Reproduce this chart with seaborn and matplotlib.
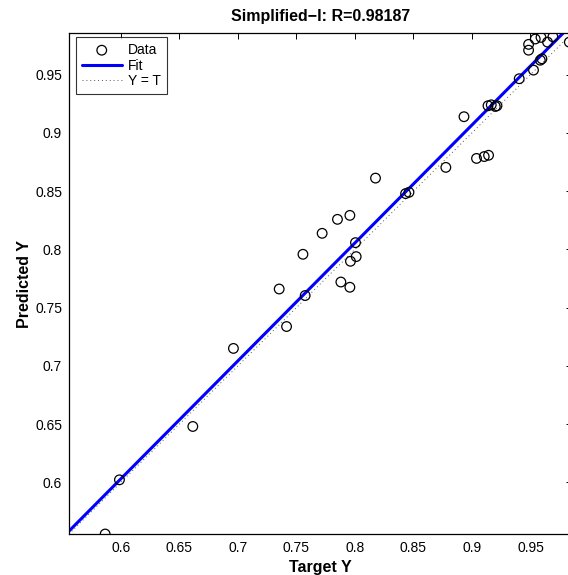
import numpy as np
import pandas as pd
import matplotlib
matplotlib.use("Agg")
import matplotlib.pyplot as plt
import seaborn as sns
from matplotlib.ticker import FuncFormatter, FixedLocator

# ---- data ----
target_y = [0.5866, 0.5988, 0.6615, 0.6962, 0.7353, 0.7416, 0.7575, 0.7556,
            0.7720, 0.7880, 0.7957, 0.7962, 0.8011, 0.8005, 0.7851, 0.7957,
            0.8176, 0.8433, 0.8462, 0.8777, 0.8932, 0.9039, 0.9105, 0.9142,
            0.9137, 0.9165, 0.9200, 0.9214, 0.9404, 0.9526, 0.9584, 0.9598,
            0.9484, 0.9484, 0.9541, 0.9590, 0.9646, 0.9692, 0.9832]
predicted_y = [0.5557, 0.6022, 0.6480, 0.7150, 0.7660, 0.7338, 0.7604, 0.7958,
               0.8138, 0.7720, 0.7675, 0.7898, 0.7938, 0.8058, 0.8258, 0.8292,
               0.8612, 0.8479, 0.8490, 0.8704, 0.9139, 0.8781, 0.8797, 0.8808,
               0.9233, 0.9241, 0.9227, 0.9233, 0.9465, 0.9539, 0.9624, 0.9636,
               0.9760, 0.9710, 0.9806, 0.9820, 0.9779, 0.9825, 0.9779]
axis_limits = [0.5557, 0.9855]
tick_values = [0.6, 0.65, 0.7, 0.75, 0.8, 0.85, 0.9, 0.95]
title_text = "Simplified\u2212I: R=0.98187"
legend_labels = ["Data", "Fit", "Y = T"]

df = pd.DataFrame({"T": target_y, "Y": predicted_y})
slope, intercept = np.polyfit(df["T"], df["Y"], 1)
line_df = pd.DataFrame({"T": axis_limits})
line_df["Fit"] = slope * line_df["T"] + intercept
line_df["YT"] = line_df["T"]

sns.set_style("white")
plt.rcParams["font.family"] = ["Liberation Sans", "DejaVu Sans"]
plt.rcParams["text.color"] = "black"
plt.rcParams["axes.labelcolor"] = "black"
plt.rcParams["xtick.color"] = "black"
plt.rcParams["ytick.color"] = "black"

fig = plt.figure(figsize=(5.68, 5.75), dpi=100)
ax = fig.add_axes([69 / 568, 41 / 575, 503 / 568, 500.7 / 575])

sns.scatterplot(data=df, x="T", y="Y", ax=ax, marker="o", s=48,
                facecolors="none", edgecolor="black", linewidth=0.9,
                label=legend_labels[0], zorder=3)
sns.lineplot(data=line_df, x="T", y="Fit", ax=ax, color=(0, 0, 1),
             linewidth=2.2, label=legend_labels[1], zorder=2)
sns.lineplot(data=line_df, x="T", y="YT", ax=ax, color="#555555",
             linewidth=0.7, linestyle=(0, (1, 3)), label=legend_labels[2], zorder=1)

ax.set_xlim(axis_limits)
ax.set_ylim(axis_limits)
ax.xaxis.set_major_locator(FixedLocator(tick_values))
ax.yaxis.set_major_locator(FixedLocator(tick_values))
fmt = FuncFormatter(lambda v, p: "%g" % round(v, 4))
ax.xaxis.set_major_formatter(fmt)
ax.yaxis.set_major_formatter(fmt)
ax.tick_params(direction="in", length=4, width=0.7, top=True, right=True,
               labelsize=10, colors="black", pad=5)
for s in ax.spines.values():
    s.set_color("black")
    s.set_linewidth(0.9)

ax.set_xlabel("Target Y", fontsize=11.5, fontweight="bold", labelpad=3.5, color="black")
ax.set_ylabel("Predicted Y", fontsize=11.5, fontweight="bold", labelpad=2.5, color="black")
ax.set_title(title_text, fontsize=11.5, fontweight="bold", pad=9, color="black")

leg = ax.legend(loc="upper left", bbox_to_anchor=(0.014, 0.992), fontsize=10,
                frameon=True, fancybox=False, edgecolor="black",
                handlelength=2.9, handletextpad=0.45, borderpad=0.4,
                labelspacing=0.12, borderaxespad=0.0)
leg.get_frame().set_linewidth(0.8)
for t in leg.get_texts():
    t.set_color("black")

fig.savefig("out.png", dpi=100)
